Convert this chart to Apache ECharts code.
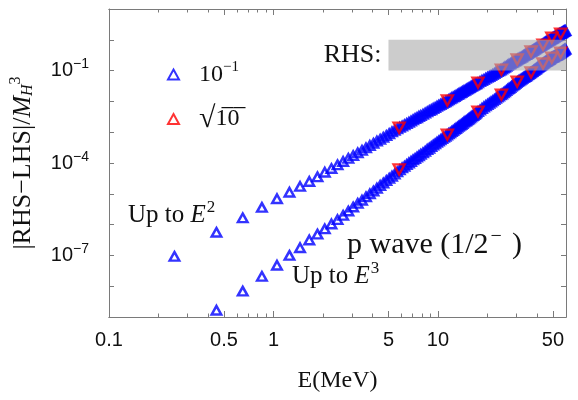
<!DOCTYPE html>
<html>
<head>
<meta charset="utf-8">
<script src="https://cdn.jsdelivr.net/npm/echarts@6/dist/echarts.min.js"></script>
<style>
  html, body { margin: 0; padding: 0; background: #fff; }
  #chart { width: 578px; height: 400px; }
</style>
</head>
<body>
<div id="chart"></div>
<script>
// energies (MeV) of the blue markers
var energies = [
  0.25, 0.45, 0.65, 0.85, 1.05, 1.25, 1.45, 1.65, 1.85, 2.05,
  2.25, 2.45, 2.65, 2.85, 3.05, 3.25, 3.45, 3.65, 3.85, 4.05,
  4.25, 4.45, 4.65, 4.85, 5.05, 5.25, 5.45, 5.65, 5.85, 6.05,
  6.25, 6.45, 6.65, 6.85, 7.05, 7.25, 7.45, 7.65, 7.85,
  8.1, 8.35, 8.6, 8.85, 9.1, 9.35, 9.6, 9.85, 10.1, 10.35,
  10.6, 10.85, 11.1, 11.35, 11.6, 11.85, 12.1, 12.35, 12.6, 12.85,
  13.1, 13.35, 13.6, 13.85, 14.1, 14.35, 14.6, 14.85, 15.1, 15.35,
  15.6, 15.85, 16.1, 16.35, 16.6, 16.85, 17.1,
  17.5, 18, 18.5, 19, 19.5, 20, 20.5, 21, 21.5, 22,
  22.5, 23, 23.5, 24, 24.5, 25, 25.5, 26, 26.5, 27,
  27.5, 28, 28.5, 29, 29.5, 30, 30.5, 31, 31.5, 32,
  32.5, 33, 33.5, 34, 34.5, 35, 35.5, 36, 36.5, 37,
  37.5, 38, 38.5, 39, 39.5, 40, 40.5, 41, 41.5, 42,
  42.5, 43, 43.5, 44, 44.5, 45, 45.5, 46, 46.5, 47,
  47.5, 48, 48.5, 49, 49.5, 50, 50.5, 51, 51.5, 52,
  52.5, 53, 53.5, 54, 54.5, 55, 55.5, 56, 56.5, 57,
  57.5, 58, 58.5, 59, 59.5
];
// log10 |RHS-LHS|/M^3, "Up to E^2" band (upper)
var upperExp = [
  -7.03, -6.25, -5.78, -5.44, -5.16, -4.95, -4.76, -4.60, -4.45, -4.30,
  -4.18, -4.06, -3.95, -3.85, -3.76, -3.67, -3.59, -3.51, -3.43, -3.36,
  -3.29, -3.23, -3.17, -3.11, -3.05, -2.99, -2.94, -2.89, -2.84, -2.80,
  -2.76, -2.72, -2.68, -2.64, -2.60, -2.56, -2.53, -2.49, -2.46,
  -2.42, -2.38, -2.34, -2.30, -2.27, -2.23, -2.20, -2.16, -2.13, -2.10,
  -2.07, -2.04, -2.01, -1.98, -1.95, -1.92, -1.89, -1.86, -1.84, -1.81,
  -1.78, -1.76, -1.73, -1.71, -1.68, -1.66, -1.64, -1.61, -1.59, -1.57,
  -1.55, -1.52, -1.50, -1.48, -1.46, -1.44, -1.43,
  -1.40, -1.36, -1.32, -1.29, -1.25, -1.22, -1.19, -1.16, -1.13, -1.10,
  -1.06, -1.03, -1.01, -0.98, -0.95, -0.92, -0.89, -0.86, -0.83, -0.80,
  -0.78, -0.75, -0.73, -0.70, -0.68, -0.66, -0.63, -0.61, -0.59, -0.57,
  -0.55, -0.52, -0.50, -0.48, -0.47, -0.45, -0.42, -0.40, -0.39, -0.37,
  -0.35, -0.33, -0.31, -0.29, -0.27, -0.25, -0.24, -0.22, -0.21, -0.19,
  -0.17, -0.15, -0.14, -0.12, -0.10, -0.08, -0.07, -0.05, -0.04, -0.02,
  -0.01, 0.00, 0.02, 0.03, 0.05, 0.06, 0.08, 0.09, 0.11, 0.12,
  0.13, 0.14, 0.16, 0.17, 0.19, 0.20, 0.21, 0.22, 0.23, 0.24,
  0.26, 0.27, 0.28, 0.29, 0.30
];
// "Up to E^3" band (lower); the 0.25 MeV point lies below the frame
var lowerExp = [
  null, -8.78, -8.16, -7.68, -7.32, -7.00, -6.75, -6.50, -6.31, -6.14,
  -5.98, -5.84, -5.70, -5.56, -5.43, -5.31, -5.21, -5.10, -5.00, -4.91,
  -4.82, -4.73, -4.65, -4.57, -4.50, -4.43, -4.36, -4.29, -4.22, -4.16,
  -4.11, -4.05, -4.00, -3.95, -3.90, -3.86, -3.81, -3.77, -3.72,
  -3.67, -3.62, -3.56, -3.52, -3.47, -3.42, -3.38, -3.33, -3.29, -3.25,
  -3.21, -3.17, -3.13, -3.09, -3.05, -3.02, -2.98, -2.95, -2.91, -2.88,
  -2.84, -2.81, -2.78, -2.75, -2.72, -2.68, -2.65, -2.63, -2.60, -2.57,
  -2.54, -2.51, -2.48, -2.46, -2.43, -2.40, -2.37,
  -2.33, -2.28, -2.23, -2.18, -2.14, -2.10, -2.06, -2.02, -1.98, -1.94,
  -1.90, -1.86, -1.83, -1.79, -1.76, -1.72, -1.69, -1.65, -1.61, -1.58,
  -1.55, -1.51, -1.48, -1.45, -1.42, -1.39, -1.36, -1.33, -1.31, -1.28,
  -1.26, -1.23, -1.21, -1.19, -1.17, -1.14, -1.12, -1.10, -1.07, -1.05,
  -1.03, -1.00, -0.98, -0.96, -0.94, -0.91, -0.89, -0.87, -0.85, -0.83,
  -0.81, -0.79, -0.77, -0.75, -0.73, -0.71, -0.70, -0.68, -0.67, -0.65,
  -0.64, -0.62, -0.60, -0.58, -0.57, -0.56, -0.55, -0.53, -0.52, -0.51,
  -0.50, -0.49, -0.48, -0.46, -0.45, -0.43, -0.42, -0.40, -0.39, -0.37,
  -0.36, -0.34, -0.33, -0.31, -0.30
];
// red (sqrt 10) markers
var redEnergies = [5.8, 11.4, 17.5, 24.3, 30.3, 36.8, 43.5, 49.2, 55.7];
var redUpperExp = [-2.85, -1.97, -1.39, -0.97, -0.64, -0.38, -0.16, 0.07, 0.20];
var redLowerExp = [-4.21, -3.08, -2.33, -1.78, -1.36, -1.06, -0.77, -0.58, -0.42];

var xMajorTicks = [0.1, 0.5, 1, 5, 10, 50];
var xMinorTicks = [0.2, 0.3, 0.4, 0.6, 0.7, 0.8, 0.9, 2, 3, 4, 6, 7, 8, 9, 20, 30, 40];
var yTicks = [1e-9, 1e-8, 1e-7, 1e-6, 1e-5, 1e-4, 1e-3, 1e-2, 1e-1, 1, 10];
var yLabels = [1e-7, 1e-4, 1e-1];
var rhsBox = [[5, 1], [60, 0.1]];

var blueData = [];
energies.forEach(function (e, i) {
    blueData.push([e, Math.pow(10, upperExp[i])]);
});
energies.forEach(function (e, i) {
    if (lowerExp[i] !== null) blueData.push([e, Math.pow(10, lowerExp[i])]);
});
var redData = [];
redEnergies.forEach(function (e, i) {
    redData.push([e, Math.pow(10, redUpperExp[i])]);
    redData.push([e, Math.pow(10, redLowerExp[i])]);
});

var frame = '#7a7a7a';
var serif = '"Liberation Serif", "Times New Roman", serif';
var sans = '"Liberation Sans", Arial, sans-serif';

function xAxisDef(pos, ticks, len, labels) {
    return {
        type: 'log', logBase: 10, min: 0.1, max: 60, position: pos,
        axisLine: {show: true, onZero: false, lineStyle: {color: frame, width: 1}},
        axisTick: {show: true, inside: true, length: len, customValues: ticks,
            lineStyle: {color: frame, width: 1}},
        axisLabel: labels ? {
            show: true, customValues: xMajorTicks, margin: 13,
            fontFamily: sans, fontSize: 20, color: '#111'
        } : {show: false},
        splitLine: {show: false}
    };
}

function yAxisDef(pos, labels) {
    return {
        type: 'log', logBase: 10, min: 1e-9, max: 10, position: pos,
        axisLine: {show: true, onZero: false, lineStyle: {color: frame, width: 1}},
        axisTick: {show: true, inside: true, length: 5, customValues: yTicks,
            lineStyle: {color: frame, width: 1}},
        axisLabel: labels ? {
            show: true, customValues: yLabels, margin: 20,
            formatter: function (v) {
                var p = Math.round(Math.log10(v));
                return '{b|10}{s|' + (p < 0 ? '\u2212' : '') + Math.abs(p) + '}';
            },
            rich: {
                b: {fontFamily: sans, fontSize: 20, color: '#111', lineHeight: 24},
                s: {fontFamily: sans, fontSize: 14, color: '#111', lineHeight: 14, padding: [0, 0, 12, 0]}
            }
        } : {show: false},
        splitLine: {show: false}
    };
}

var chart = echarts.init(document.getElementById('chart'));
var option = {
    animation: false,
    backgroundColor: '#fff',
    grid: {left: 103, right: 12, top: 9, bottom: 83, containLabel: false},
    xAxis: [
        Object.assign(xAxisDef('bottom', xMajorTicks, 6, true), {
            name: 'E(MeV)', nameLocation: 'middle', nameGap: 52,
            nameTextStyle: {fontFamily: serif, fontSize: 24, color: '#111'}
        }),
        xAxisDef('bottom', xMinorTicks, 3.5, false),
        xAxisDef('top', xMajorTicks, 6, false),
        xAxisDef('top', xMinorTicks, 3.5, false)
    ],
    yAxis: [
        Object.assign(yAxisDef('left', true), {
            name: '{a||RHS\u2212LHS|/}{m|M}{h|H}{t|3}',
            nameLocation: 'middle', nameGap: 71, nameRotate: 90,
            nameTextStyle: {
                rich: {
                    a: {fontFamily: serif, fontSize: 26, color: '#111', lineHeight: 30},
                    m: {fontFamily: serif, fontSize: 26, fontStyle: 'italic', color: '#111', lineHeight: 30},
                    h: {fontFamily: serif, fontSize: 16, fontStyle: 'italic', color: '#111', lineHeight: 16, padding: [10, 0, 0, 0]},
                    t: {fontFamily: serif, fontSize: 16, color: '#111', lineHeight: 16, padding: [0, 0, 14, 0]}
                }
            }
        }),
        yAxisDef('right', false)
    ],
    legend: {
        orient: 'vertical', left: 162, top: 55, itemGap: 15,
        itemWidth: 11, itemHeight: 10,
        data: ['10^-1', 'sqrt10'],
        formatter: function (name) {
            return name === '10^-1' ? '{n|10}{s|\u22121}' : '{r|\u221A}{n|1\u03050\u0305}';
        },
        textStyle: {
            padding: [0, 0, 0, 15],
            rich: {
                n: {fontFamily: serif, fontSize: 24, color: '#111', lineHeight: 30},
                s: {fontFamily: serif, fontSize: 15, color: '#111', lineHeight: 15, padding: [0, 0, 14, 0]},
                r: {fontFamily: serif, fontSize: 30, color: '#111', lineHeight: 30}
            }
        }
    },
    series: [
        {
            name: '10^-1', type: 'scatter', xAxisIndex: 0, yAxisIndex: 0,
            symbol: 'triangle', symbolSize: [9.5, 8.5],
            itemStyle: {color: 'rgba(0,0,0,0)', borderColor: '#0000ff', borderWidth: 2.5},
            data: blueData, z: 2
        },
        {
            name: 'sqrt10', type: 'scatter', xAxisIndex: 0, yAxisIndex: 0,
            symbol: 'triangle', symbolRotate: 180, symbolSize: [11, 10],
            itemStyle: {color: 'rgba(0,0,0,0)', borderColor: '#ff0000', borderWidth: 2.4},
            data: redData, z: 3,
            markArea: {
                silent: true, z: 10,
                itemStyle: {color: 'rgba(170,170,170,0.6)'},
                label: {
                    show: true, position: 'left', distance: 7, formatter: 'RHS:',
                    fontFamily: serif, fontSize: 26, color: '#111'
                },
                data: [[{coord: rhsBox[0]}, {coord: rhsBox[1]}]]
            }
        }
    ],
    graphic: [
        {
            type: 'text', x: 128, y: 215,
            style: {
                text: '{n|Up to }{i|E}{s|2}', verticalAlign: 'middle',
                rich: {
                    n: {fontFamily: serif, fontSize: 25, fill: '#111', lineHeight: 30},
                    i: {fontFamily: serif, fontSize: 25, fontStyle: 'italic', fill: '#111', lineHeight: 30},
                    s: {fontFamily: serif, fontSize: 17, fill: '#111', lineHeight: 17, padding: [0, 0, 14, 1]}
                }
            }
        },
        {
            type: 'text', x: 292, y: 276,
            style: {
                text: '{n|Up to }{i|E}{s|3}', verticalAlign: 'middle',
                rich: {
                    n: {fontFamily: serif, fontSize: 25, fill: '#111', lineHeight: 30},
                    i: {fontFamily: serif, fontSize: 25, fontStyle: 'italic', fill: '#111', lineHeight: 30},
                    s: {fontFamily: serif, fontSize: 17, fill: '#111', lineHeight: 17, padding: [0, 0, 14, 1]}
                }
            }
        },
        {
            type: 'text', x: 347, y: 245,
            style: {
                text: '{n|p wave }{n|(1/2}{s|\u2212}{n|)}', verticalAlign: 'middle',
                rich: {
                    n: {fontFamily: serif, fontSize: 30, fill: '#111', lineHeight: 36},
                    s: {fontFamily: serif, fontSize: 20, fill: '#111', lineHeight: 20, padding: [0, 10, 16, 2]}
                }
            }
        }
    ]
};
chart.setOption(option);
</script>
</body>
</html>
